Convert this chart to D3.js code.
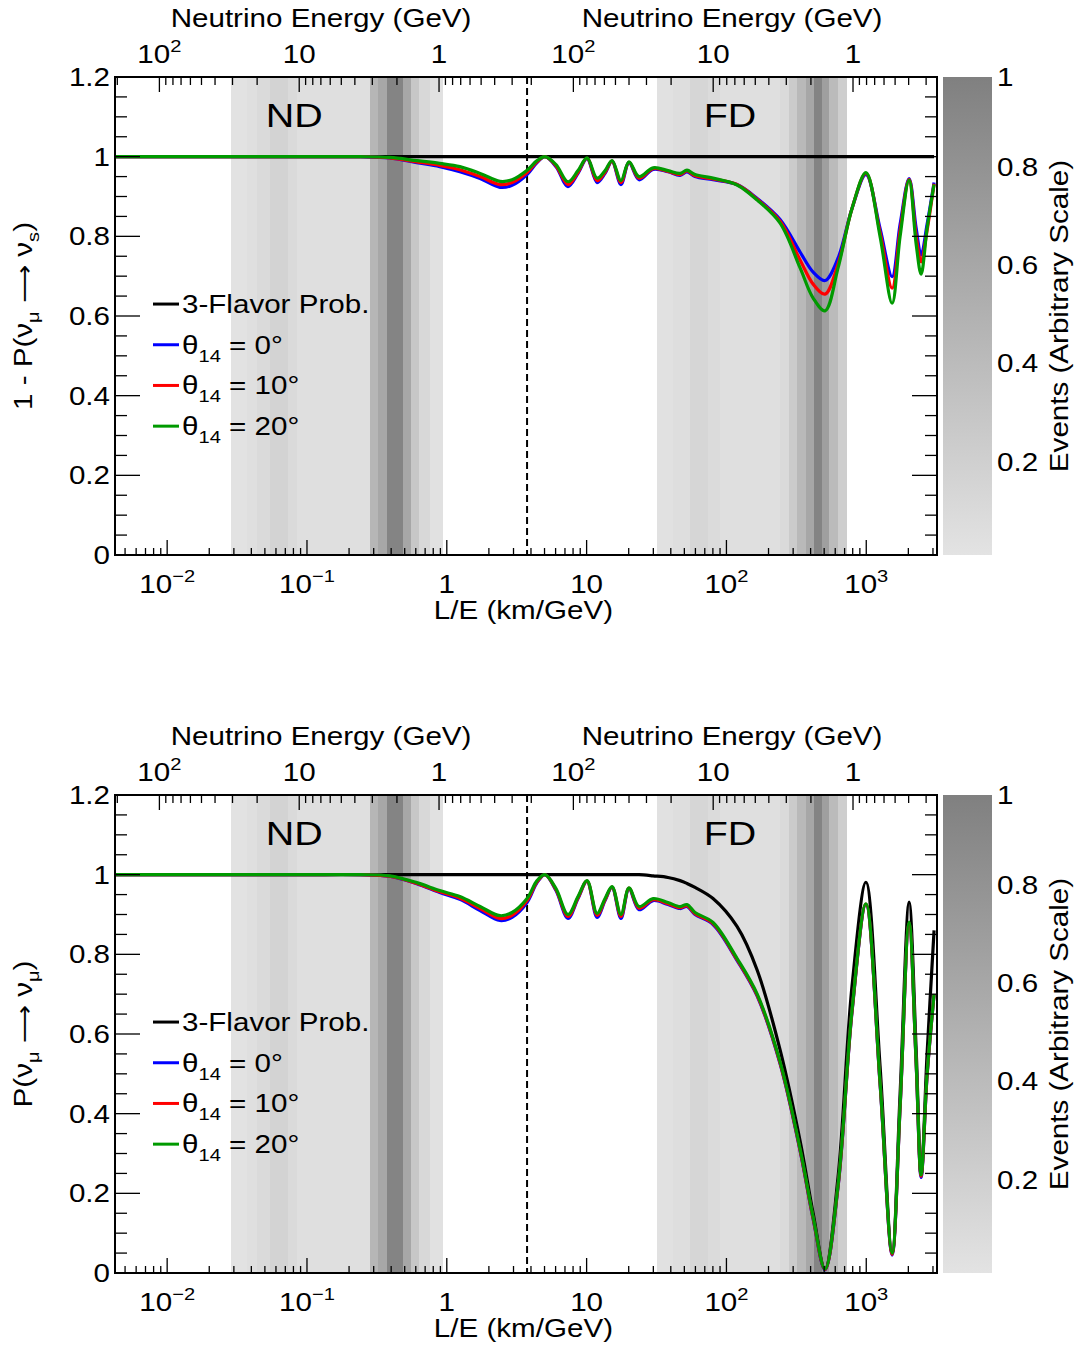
<!DOCTYPE html>
<html>
<head>
<meta charset="utf-8">
<script src="https://cdn.jsdelivr.net/npm/d3@7"></script>
<style>
  body { margin: 0; background: #fff; }
  text { font-family: "Liberation Sans", Arial, Helvetica, sans-serif; fill: #000; }
</style>
</head>
<body>
<svg id="chart" width="1085" height="1347"></svg>
<script>

// L/E grid (km/GeV) shared by every curve
const lOverE = [0.0043, 0.089, 0.24, 0.39, 0.61, 0.89, 1.24, 1.73, 2.40, 2.93,
  3.75, 4.42, 5.04, 6.04, 7.36, 8.68, 10.07, 11.88, 13.55, 15.2,
  17.6, 20.1, 23.7, 29.9, 38.2, 46.6, 52.2, 59.6, 80.2, 119,
  166, 242, 337, 417, 507, 628, 791, 995, 1255, 1531,
  1746, 2025, 2275, 2468, 2723, 3055];

// top panel: 1 - P(numu -> nus)
const topThreeFlavor = [1, 1, 1, 1, 1, 1, 1, 1, 1, 1, 1, 1, 1, 1, 1, 1, 1, 1, 1, 1, 1, 1, 1,
  1, 1, 1, 1, 1, 1, 1, 1, 1, 1, 1, 1, 1, 1, 1, 1, 1, 1, 1, 1, 1, 1, 1];
const topTheta0 = [1.0, 1.0, 1.0, 0.997, 0.985, 0.975, 0.962, 0.945, 0.923, 0.928,
  0.955, 0.985, 1.0, 0.975, 0.925, 0.958, 0.995, 0.935, 0.958, 0.988,
  0.93, 0.985, 0.942, 0.968, 0.962, 0.953, 0.962, 0.95, 0.942, 0.93,
  0.895, 0.842, 0.76, 0.71, 0.689, 0.745, 0.87, 0.955, 0.82, 0.699,
  0.83, 0.945, 0.82, 0.753, 0.83, 0.935];
const topTheta10 = [1.0, 1.0, 1.0, 0.997, 0.987, 0.978, 0.967, 0.95, 0.93, 0.935,
  0.96, 0.987, 1.0, 0.977, 0.93, 0.961, 0.996, 0.94, 0.961, 0.989,
  0.935, 0.986, 0.946, 0.97, 0.963, 0.955, 0.964, 0.952, 0.944, 0.93,
  0.893, 0.838, 0.74, 0.68, 0.655, 0.73, 0.87, 0.958, 0.81, 0.67,
  0.815, 0.943, 0.80, 0.736, 0.815, 0.932];
const topTheta20 = [1.0, 1.0, 1.0, 0.998, 0.99, 0.983, 0.975, 0.958, 0.938, 0.942,
  0.966, 0.99, 1.0, 0.98, 0.937, 0.965, 0.997, 0.946, 0.965, 0.99,
  0.94, 0.987, 0.95, 0.972, 0.965, 0.958, 0.966, 0.955, 0.946, 0.929,
  0.891, 0.833, 0.72, 0.645, 0.613, 0.72, 0.87, 0.96, 0.80, 0.632,
  0.80, 0.941, 0.78, 0.705, 0.82, 0.93];

// bottom panel: P(numu -> numu)
const botThreeFlavor = [1, 1, 1, 1, 1, 1, 1, 1, 1, 1,
  1, 1, 1, 1, 1, 1, 1, 1, 1, 1,
  1, 1, 1, 0.997, 0.993, 0.985, 0.978, 0.968, 0.94, 0.87,
  0.76, 0.56, 0.33, 0.15, 0.01, 0.24, 0.72, 0.981, 0.52, 0.05,
  0.45, 0.931, 0.56, 0.246, 0.55, 0.86];
const botTheta0 = [1.0, 1.0, 1.0, 0.996, 0.977, 0.955, 0.938, 0.91, 0.885, 0.893,
  0.93, 0.98, 1.0, 0.96, 0.89, 0.94, 0.983, 0.893, 0.935, 0.968,
  0.89, 0.965, 0.912, 0.935, 0.925, 0.915, 0.92, 0.9, 0.875, 0.785,
  0.695, 0.525, 0.305, 0.135, 0.008, 0.215, 0.655, 0.925, 0.475, 0.045,
  0.415, 0.878, 0.525, 0.24, 0.495, 0.70];
const botTheta10 = [1.0, 1.0, 1.0, 0.996, 0.978, 0.957, 0.941, 0.915, 0.89, 0.898,
  0.935, 0.982, 1.0, 0.962, 0.895, 0.942, 0.984, 0.898, 0.937, 0.969,
  0.895, 0.966, 0.916, 0.937, 0.927, 0.917, 0.922, 0.902, 0.877, 0.787,
  0.697, 0.527, 0.307, 0.137, 0.009, 0.217, 0.657, 0.926, 0.477, 0.047,
  0.417, 0.879, 0.527, 0.243, 0.497, 0.70];
const botTheta20 = [1.0, 1.0, 1.0, 0.997, 0.98, 0.96, 0.945, 0.92, 0.897, 0.905,
  0.94, 0.985, 1.0, 0.965, 0.9, 0.945, 0.985, 0.903, 0.94, 0.97,
  0.9, 0.967, 0.92, 0.94, 0.93, 0.92, 0.925, 0.905, 0.88, 0.79,
  0.70, 0.53, 0.31, 0.14, 0.01, 0.22, 0.66, 0.927, 0.48, 0.05,
  0.42, 0.881, 0.53, 0.246, 0.5, 0.70];

// event shading (bin edges in L/E, relative events)
const ndEdges = [0.0285, 0.0371, 0.0437, 0.0544, 0.0735, 0.0844, 0.282, 0.324, 0.372, 0.489, 0.555, 0.636, 0.758, 0.944];
const ndEvents = [0.02, 0.05, 0.1, 0.17, 0.1, 0.05, 0.45, 0.6, 0.94, 0.6, 0.28, 0.12, 0.03];
const fdEdges = [32.0, 41.7, 54.9, 74.3, 90.0, 241.7, 280.5, 319.9, 371, 423, 482.9, 542, 628.5, 729];
const fdEvents = [0.03, 0.06, 0.14, 0.09, 0.05, 0.1, 0.25, 0.42, 0.6, 0.94, 0.68, 0.4, 0.22, 0.08];

const seriesColors = ['#000000', '#0000ff', '#ff0000', '#009a00'];
const thetaValues = ['0', '10', '20'];

const ND_BASELINE = 0.88;   // km
const FD_BASELINE = 804;    // km
const DIVIDER_LE = 3.75;
const CBAR_RANGE = [0.01, 0.983];

// layout
const FRAME = { left: 115, right: 937, height: 478 };
const PANEL_TOP = [77, 795];
const CBAR = { left: 943, right: 992 };
const FONT = 25.5;
const SX = 1.16;

const svg = d3.select('#chart');
svg.append('rect').attr('width', 1085).attr('height', 1347).attr('fill', '#fff');

const x = d3.scaleLog().domain([0.004236, 3206]).range([FRAME.left, FRAME.right]);
const y = d3.scaleLinear().domain([0, 1.2]).range([FRAME.height, 0]);
const gray = d3.scaleLinear().domain([0, 1]).range(['#e4e4e4', '#7e7e7e']);
const cbarY = d3.scaleLinear().domain(CBAR_RANGE).range([FRAME.height, 0]);

const xDiv = x(DIVIDER_LE);
const ndE = d3.scaleLog().domain([ND_BASELINE / x.domain()[0], ND_BASELINE / DIVIDER_LE]).range([FRAME.left, xDiv]);
const fdE = d3.scaleLog().domain([FD_BASELINE / DIVIDER_LE, FD_BASELINE / x.domain()[1]]).range([xDiv, FRAME.right]);

const defs = svg.append('defs');
const grad = defs.append('linearGradient').attr('id', 'cbar')
  .attr('x1', 0).attr('y1', 1).attr('x2', 0).attr('y2', 0);
grad.append('stop').attr('offset', 0).attr('stop-color', gray(CBAR_RANGE[0]));
grad.append('stop').attr('offset', 1).attr('stop-color', gray(CBAR_RANGE[1]));

function label(parent, px, py, anchor, size, rotate) {
  return parent.append('text')
    .attr('transform', `translate(${px},${py})${rotate ? ' rotate(-90)' : ''} scale(${SX},1)`)
    .attr('text-anchor', anchor)
    .attr('font-size', size || FONT);
}

function logLabel(t, v) {
  const k = Math.round(Math.log10(v));
  if (k === 0) { t.text('1'); return; }
  if (k === 1) { t.text('10'); return; }
  t.append('tspan').text('10');
  t.append('tspan').attr('dy', -11).attr('font-size', FONT * 0.68)
    .text(k < 0 ? '\u2212' + (-k) : String(k));
}

const isDecade = (v) => Math.abs(Math.log10(v) - Math.round(Math.log10(v))) < 1e-6;

function drawPanel(top, curves, yTitle) {

  const g = svg.append('g').attr('transform', `translate(0,${top})`);
  const clipId = `clip${top}`;

  g.append('clipPath').attr('id', clipId).append('rect')
    .attr('x', FRAME.left).attr('y', 0)
    .attr('width', FRAME.right - FRAME.left).attr('height', FRAME.height);

  // event shading
  [[ndEdges, ndEvents], [fdEdges, fdEvents]].forEach(([edges, ev]) => {
    g.append('g').selectAll('rect')
      .data(ev)
      .enter().append('rect')
        .attr('x', (d, i) => x(edges[i]))
        .attr('width', (d, i) => x(edges[i + 1]) - x(edges[i]))
        .attr('y', 0)
        .attr('height', FRAME.height)
        .attr('fill', (d) => gray(d))
        .attr('shape-rendering', 'crispEdges');
  });

  label(g, x(0.081), y(1.075), 'middle', 34).text('ND');
  label(g, x(106), y(1.075), 'middle', 34).text('FD');

  g.append('line')
    .attr('x1', xDiv).attr('x2', xDiv).attr('y1', 0).attr('y2', FRAME.height)
    .attr('stroke', '#000').attr('stroke-width', 2).attr('stroke-dasharray', '7,4');

  const line = d3.line()
    .x((d, i) => x(lOverE[i]))
    .y((d) => y(d))
    .curve(d3.curveCatmullRom.alpha(0.5));

  curves.forEach((vals, k) => {
    g.append('path')
      .attr('d', line(vals))
      .attr('fill', 'none')
      .attr('stroke', seriesColors[k])
      .attr('stroke-width', 3.2)
      .attr('stroke-linejoin', 'round')
      .attr('clip-path', `url(#${clipId})`);
  });

  // frame
  g.append('rect')
    .attr('x', FRAME.left).attr('y', 0)
    .attr('width', FRAME.right - FRAME.left).attr('height', FRAME.height)
    .attr('fill', 'none').attr('stroke', '#000').attr('stroke-width', 2);

  const ticks = g.append('g').attr('stroke', '#000').attr('stroke-width', 1.3);

  // y ticks, both sides
  y.ticks(24).forEach((v) => {
    const major = Math.abs(v * 5 - Math.round(v * 5)) < 1e-6;
    const len = major ? 25 : 12;
    ticks.append('line').attr('x1', FRAME.left).attr('x2', FRAME.left + len).attr('y1', y(v)).attr('y2', y(v));
    ticks.append('line').attr('x1', FRAME.right - len).attr('x2', FRAME.right).attr('y1', y(v)).attr('y2', y(v));
    if (major) {
      label(g, FRAME.left - 5, y(v) + 9, 'end').text(String(+v.toFixed(1)));
    }
  });

  // bottom L/E axis
  x.ticks().forEach((v) => {
    const major = isDecade(v);
    const len = major ? 15 : 7;
    ticks.append('line').attr('x1', x(v)).attr('x2', x(v)).attr('y1', FRAME.height - len).attr('y2', FRAME.height);
    if (major) logLabel(label(g, x(v), FRAME.height + 38, 'middle'), v);
  });
  label(g, 613, FRAME.height + 64, 'end').text('L/E (km/GeV)');

  // top energy axes
  [ndE, fdE].forEach((sc) => {
    sc.ticks().forEach((v) => {
      const px = sc(v);
      if (px < sc.range()[0] + 1 || px > sc.range()[1] - 1) return;
      const major = isDecade(v);
      const len = major ? 15 : 8;
      ticks.append('line').attr('x1', px).attr('x2', px).attr('y1', 0).attr('y2', len);
      if (major) logLabel(label(g, px, -14, 'middle'), v);
    });
    const mid = (sc.range()[0] + sc.range()[1]) / 2;
    label(g, mid, -50, 'middle').text('Neutrino Energy (GeV)');
  });

  // y title
  const yt = label(g, 32, FRAME.height / 2, 'middle', FONT, true);
  yTitle.forEach((part) => {
    const s = yt.append('tspan').text(part.t);
    if (part.sub) s.attr('font-size', FONT * 0.68).attr('dy', 7);
    if (part.up) s.attr('dy', -7);
    if (part.arrow) s.attr('font-family', '"DejaVu Sans", sans-serif').attr('font-size', FONT * 0.9);
  });

  // legend
  const leg = g.append('g');
  seriesColors.forEach((c, k) => {
    const ly = y(0.63) + k * 40.7;
    leg.append('line').attr('x1', 153).attr('x2', 179).attr('y1', ly).attr('y2', ly)
      .attr('stroke', c).attr('stroke-width', 3);
    const t = label(leg, 182, ly + 9, 'start');
    if (k === 0) {
      t.text('3-Flavor Prob.');
    } else {
      t.append('tspan').text('\u03b8');
      t.append('tspan').attr('font-size', FONT * 0.68).attr('dy', 8).text('14');
      t.append('tspan').attr('dy', -8).text(` = ${thetaValues[k - 1]}\u00b0`);
    }
  });

  // colour bar
  g.append('rect')
    .attr('x', CBAR.left).attr('y', 0)
    .attr('width', CBAR.right - CBAR.left).attr('height', FRAME.height)
    .attr('fill', 'url(#cbar)');
  cbarY.ticks(5).forEach((v) => {
    ticks.append('line').attr('x1', CBAR.right - 25).attr('x2', CBAR.right).attr('y1', cbarY(v)).attr('y2', cbarY(v));
    label(g, CBAR.right + 5, cbarY(v) + 9, 'start').text(String(+v.toFixed(1)));
  });
  label(g, CBAR.right + 5, 9, 'start').text('1');
  label(g, 1068, FRAME.height / 2, 'middle', FONT, true).text('Events (Arbitrary Scale)');

}

drawPanel(PANEL_TOP[0], [topThreeFlavor, topTheta0, topTheta10, topTheta20], [
  { t: '1 - P(\u03bd' }, { t: '\u03bc', sub: true }, { t: ' ', up: true }, { t: '\u27f6', arrow: true }, { t: ' \u03bd' }, { t: 's', sub: true }, { t: ')', up: true }
]);

drawPanel(PANEL_TOP[1], [botThreeFlavor, botTheta0, botTheta10, botTheta20], [
  { t: 'P(\u03bd' }, { t: '\u03bc', sub: true }, { t: ' ', up: true }, { t: '\u27f6', arrow: true }, { t: ' \u03bd' }, { t: '\u03bc', sub: true }, { t: ')', up: true }
]);

</script>
</body>
</html>
